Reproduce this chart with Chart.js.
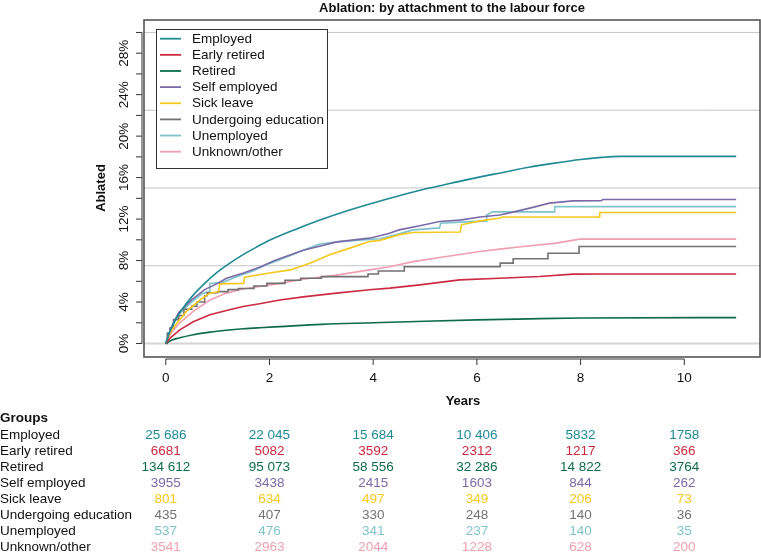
<!DOCTYPE html>
<html>
<head>
<meta charset="utf-8">
<script src="https://cdn.jsdelivr.net/npm/chart.js@4"></script>
<style>
  body { margin: 0; background: #fff; }
</style>
</head>
<body>
<canvas id="myChart" width="761" height="559"></canvas>
<script>
const groups = ["Employed", "Early retired", "Retired", "Self employed", "Sick leave",
  "Undergoing education", "Unemployed", "Unknown/other"];
const colors = ["#1f8a94", "#cc2a40", "#0d6b4b", "#7a6aa8", "#f4c81c", "#727272", "#80c3cb", "#f0a0b0"];

const yearTicks = [0, 2, 4, 6, 8, 10];
const pctLabels = [0, 4, 8, 12, 16, 20, 24, 28];
const pctMinor = [0, 2, 4, 6, 8, 10, 12, 14, 16, 18, 20, 22, 24, 26, 28, 30];
const gridLines = [0, 7.5, 15, 22.5, 30];

// cumulative incidence (%)
const employedYears = [0, 0.05, 0.1, 0.2, 0.3, 0.5, 0.75, 1.0, 1.25, 1.5, 1.75, 2.0, 2.5, 3, 3.5, 4, 4.5, 5, 5.5, 6, 6.5, 7, 7.5, 8, 8.4, 8.75, 11];
const employedPct = [0, 0.8, 1.4, 2.4, 3.2, 4.5, 5.8, 6.9, 7.8, 8.6, 9.3, 9.95, 11.0, 11.95, 12.8, 13.55, 14.25, 14.9, 15.45, 16.0, 16.5, 17.0, 17.4, 17.75, 17.95, 18.05, 18.05];

const earlyYears = [0, 0.1, 0.27, 0.53, 0.85, 1.17, 1.49, 1.81, 2.2, 2.65, 3.29, 3.93, 4.32, 4.9, 5.67, 6.44, 7.21, 7.85, 8.5, 11];
const earlyPct = [0, 0.6, 1.32, 2.1, 2.77, 3.18, 3.57, 3.83, 4.2, 4.5, 4.86, 5.18, 5.34, 5.66, 6.14, 6.3, 6.46, 6.69, 6.7, 6.7];

const retiredYears = [0, 0.1, 0.27, 0.53, 0.85, 1.17, 1.5, 1.81, 2.2, 3, 4, 5, 6, 7, 8, 11];
const retiredPct = [0, 0.3, 0.55, 0.85, 1.1, 1.28, 1.42, 1.52, 1.63, 1.85, 2.0, 2.15, 2.28, 2.38, 2.46, 2.5];

const selfYears = [0, 0.1, 0.25, 0.5, 0.75, 1.0, 1.17, 1.5, 1.83, 2.1, 2.65, 3.3, 3.93, 4.3, 4.5, 4.9, 5.28, 5.67, 6.06, 6.44, 6.63, 7.02, 7.4, 7.85, 8.4, 8.43, 11];
const selfPct = [0, 1.5, 3.0, 4.2, 5.2, 5.8, 6.3, 6.8, 7.4, 8.0, 9.0, 9.8, 10.16, 10.6, 10.96, 11.35, 11.77, 11.9, 12.2, 12.4, 12.6, 13.06, 13.54, 13.76, 13.78, 13.89, 13.89];

const sickYears = [0, 0.1, 0.25, 0.4, 0.66, 0.85, 1.02, 1.04, 1.5, 1.52, 2.0, 2.4, 2.78, 3.16, 3.55, 3.93, 4.13, 4.51, 4.77, 5.68, 5.7, 6.06, 6.44, 6.5, 8.37, 8.37, 11];
const sickPct = [0, 1.2, 2.2, 3.1, 4.2, 4.86, 5.0, 5.75, 5.8, 6.4, 6.8, 7.1, 7.75, 8.55, 9.2, 9.84, 9.95, 10.5, 10.7, 10.75, 11.45, 11.83, 12.1, 12.2, 12.2, 12.63, 12.63];

const eduYears = [0, 0.03, 0.08, 0.15, 0.25, 0.35, 0.5, 0.6, 0.75, 0.8, 1.0, 1.2, 1.4, 1.7, 1.95, 2.3, 2.6, 3.0, 3.9, 4.1, 4.6, 6.45, 6.7, 7.37, 7.97, 11];
const eduPct = [0, 1.0, 1.5, 2.3, 2.7, 3.3, 3.6, 4.0, 4.6, 4.9, 5.0, 5.2, 5.3, 5.55, 5.8, 6.1, 6.3, 6.45, 6.7, 7.0, 7.4, 7.75, 8.17, 8.7, 9.35, 9.35];

const unempYears = [0, 0.1, 0.25, 0.5, 0.7, 0.84, 0.85, 1.1, 1.4, 1.68, 1.94, 2.2, 2.65, 2.97, 3.3, 3.8, 4.13, 4.45, 4.77, 5.28, 5.3, 5.86, 6.18, 6.19, 6.3, 7.49, 7.5, 11];
const unempPct = [0, 1.5, 2.8, 4.0, 4.8, 5.0, 5.8, 5.9, 6.5, 7.0, 7.6, 8.07, 9.0, 9.6, 9.8, 10.0, 10.1, 10.5, 10.96, 11.15, 11.6, 11.76, 11.8, 12.4, 12.7, 12.7, 13.2, 13.2];

const otherYears = [0, 0.1, 0.27, 0.53, 0.85, 1.17, 1.49, 1.81, 2.2, 2.65, 3.29, 3.93, 4.32, 4.77, 5.41, 6.06, 6.44, 6.89, 7.53, 7.98, 11];
const otherPct = [0, 1.0, 2.0, 3.1, 4.2, 4.86, 5.25, 5.5, 5.8, 6.2, 6.6, 7.1, 7.4, 7.9, 8.4, 8.87, 9.1, 9.35, 9.68, 10.07, 10.07];

// numbers at risk at years 0, 2, 4, 6, 8, 10
const employedRisk = ["25 686", "22 045", "15 684", "10 406", "5832", "1758"];
const earlyRisk = ["6681", "5082", "3592", "2312", "1217", "366"];
const retiredRisk = ["134 612", "95 073", "58 556", "32 286", "14 822", "3764"];
const selfRisk = ["3955", "3438", "2415", "1603", "844", "262"];
const sickRisk = ["801", "634", "497", "349", "206", "73"];
const eduRisk = ["435", "407", "330", "248", "140", "36"];
const unempRisk = ["537", "476", "341", "237", "140", "35"];
const otherRisk = ["3541", "2963", "2044", "1228", "628", "200"];

// [years, values, style]: smooth, straight or stepped
const curves = [
  [employedYears, employedPct, "smooth"],
  [earlyYears, earlyPct, "straight"],
  [retiredYears, retiredPct, "smooth"],
  [selfYears, selfPct, "straight"],
  [sickYears, sickPct, "straight"],
  [eduYears, eduPct, "step"],
  [unempYears, unempPct, "straight"],
  [otherYears, otherPct, "straight"],
];
const riskRows = [employedRisk, earlyRisk, retiredRisk, selfRisk, sickRisk, eduRisk, unempRisk, otherRisk];

const FONT = "'Liberation Sans', Arial, sans-serif";

const datasets = curves.map((c, i) => ({
  label: groups[i],
  data: c[0].map((t, j) => ({ x: t, y: c[1][j] })),
  borderColor: colors[i],
  borderWidth: 1.6,
  pointRadius: 0,
  fill: false,
  stepped: c[2] === "step",
  tension: 0,
  cubicInterpolationMode: c[2] === "smooth" ? "monotone" : "default",
}));

const decor = {
  id: "decor",
  beforeDatasetsDraw(chart) {
    const { ctx, chartArea: a, scales: { y } } = chart;
    ctx.save();
    gridLines.forEach((g) => {
      const py = y.getPixelForValue(g);
      ctx.strokeStyle = g === 0 ? "#d4d4d4" : "#c4c4c4";
      ctx.lineWidth = g === 0 ? 2.2 : 1;
      ctx.beginPath();
      ctx.moveTo(a.left, py);
      ctx.lineTo(a.right, py);
      ctx.stroke();
    });
    ctx.restore();
  },
  afterDatasetsDraw(chart) {
    const { ctx, chartArea: a, scales: { x, y } } = chart;
    ctx.save();

    // plot box
    ctx.strokeStyle = "#555";
    ctx.lineWidth = 1.6;
    ctx.strokeRect(a.left, a.top, a.right - a.left, a.bottom - a.top);

    // y axis
    ctx.strokeStyle = "#333";
    ctx.lineWidth = 1;
    const ax = a.left - 2;
    ctx.beginPath();
    ctx.moveTo(ax, y.getPixelForValue(0));
    ctx.lineTo(ax, y.getPixelForValue(30));
    pctMinor.forEach((v) => {
      const py = y.getPixelForValue(v);
      ctx.moveTo(ax, py);
      ctx.lineTo(ax - 6, py);
    });
    ctx.stroke();
    ctx.fillStyle = "#111";
    ctx.font = "13.5px " + FONT;
    ctx.textAlign = "center";
    ctx.textBaseline = "middle";
    pctLabels.forEach((v) => {
      ctx.save();
      ctx.translate(124, y.getPixelForValue(v));
      ctx.rotate(-Math.PI / 2);
      ctx.fillText(v + "%", 0, 0);
      ctx.restore();
    });

    // x axis
    const ay = a.bottom + 2;
    ctx.beginPath();
    ctx.moveTo(x.getPixelForValue(0), ay);
    ctx.lineTo(x.getPixelForValue(10), ay);
    yearTicks.forEach((t) => {
      const px = x.getPixelForValue(t);
      ctx.moveTo(px, ay);
      ctx.lineTo(px, ay + 6);
    });
    ctx.stroke();
    yearTicks.forEach((t) => {
      ctx.fillText(String(t), x.getPixelForValue(t), 378);
    });

    // axis titles and main title
    ctx.font = "bold 13px " + FONT;
    ctx.fillText("Years", (a.left + a.right) / 2 + 11, 401);
    ctx.fillText("Ablation: by attachment to the labour force", (a.left + a.right) / 2, 8);
    ctx.save();
    ctx.translate(101, 188);
    ctx.rotate(-Math.PI / 2);
    ctx.fillText("Ablated", 0, 0);
    ctx.restore();

    // legend
    ctx.fillStyle = "#fff";
    ctx.fillRect(156, 29, 171, 139);
    ctx.strokeStyle = "#333";
    ctx.lineWidth = 1;
    ctx.strokeRect(156.5, 29.5, 171, 139);
    ctx.font = "13.5px " + FONT;
    ctx.textAlign = "left";
    groups.forEach((g, i) => {
      const py = 38.7 + i * 16.14;
      ctx.strokeStyle = colors[i];
      ctx.lineWidth = 1.8;
      ctx.beginPath();
      ctx.moveTo(160, py);
      ctx.lineTo(181, py);
      ctx.stroke();
      ctx.fillStyle = "#111";
      ctx.fillText(g, 192, py + 0.5);
    });

    // numbers at risk table
    ctx.font = "bold 13.5px " + FONT;
    ctx.fillStyle = "#111";
    ctx.fillText("Groups", 0, 418);
    groups.forEach((g, i) => {
      const py = 435 + i * 16.1;
      ctx.font = "13.5px " + FONT;
      ctx.textAlign = "left";
      ctx.fillStyle = "#111";
      ctx.fillText(g, 0, py);
      ctx.textAlign = "center";
      ctx.fillStyle = colors[i];
      riskRows[i].forEach((n, k) => {
        ctx.fillText(n, x.getPixelForValue(yearTicks[k]), py);
      });
    });
    ctx.restore();
  },
};

new Chart(document.getElementById("myChart"), {
  type: "line",
  data: { datasets: datasets },
  options: {
    responsive: false,
    animation: false,
    layout: { padding: { left: 144, top: 20, right: 1, bottom: 202 } },
    plugins: { legend: { display: false }, tooltip: { enabled: false } },
    scales: {
      x: { type: "linear", min: -0.42, max: 11.46, display: false },
      y: { type: "linear", min: -1.3, max: 31.2, display: false },
    },
  },
  plugins: [decor],
});
</script>
</body>
</html>
